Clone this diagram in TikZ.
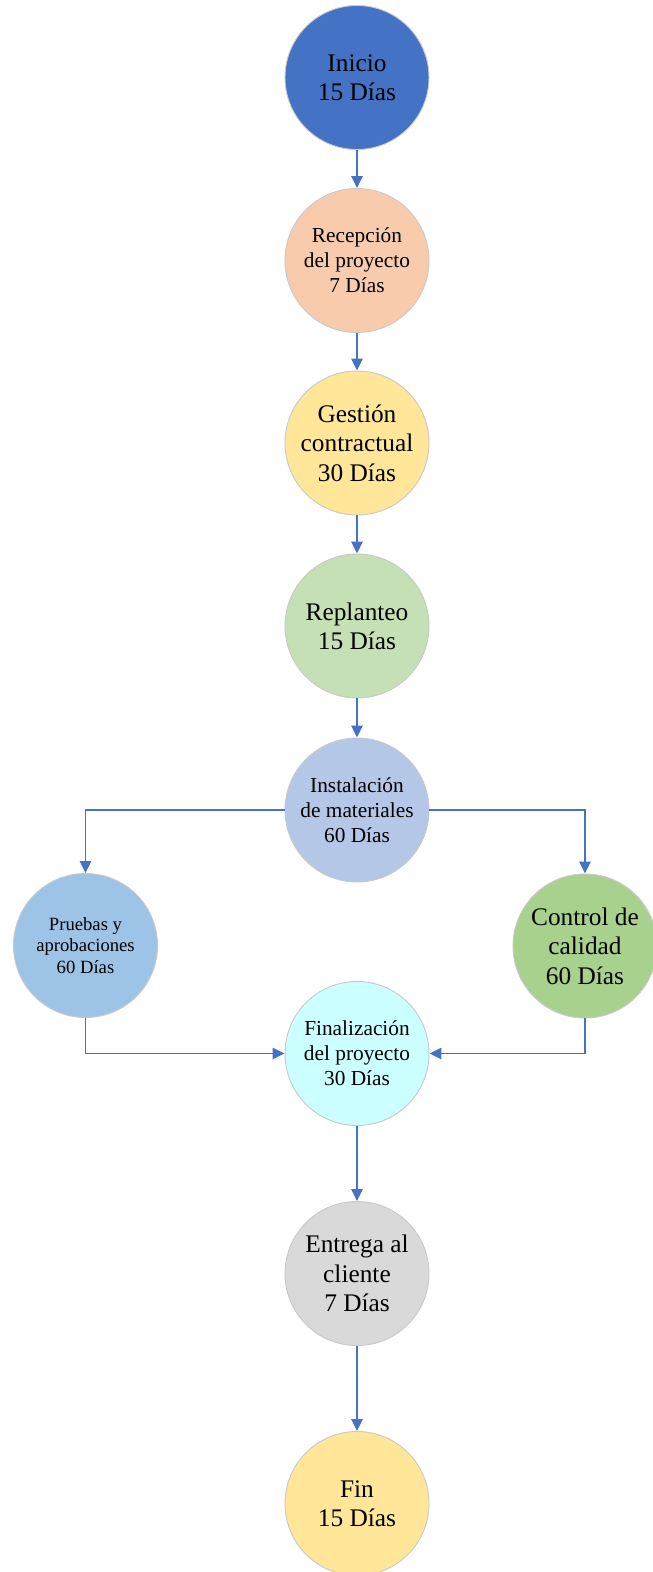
\documentclass[tikz,border=0pt]{standalone}
\usepackage{fontspec}
\setmainfont{Liberation Serif}
\usetikzlibrary{arrows.meta}
\definecolor{cInicio}{HTML}{4472C4}
\definecolor{cRecep}{HTML}{F8CBAD}
\definecolor{cGest}{HTML}{FFE699}
\definecolor{cRepl}{HTML}{C5E0B4}
\definecolor{cInst}{HTML}{B4C7E7}
\definecolor{cPrue}{HTML}{9DC3E6}
\definecolor{cCtrl}{HTML}{A9D18E}
\definecolor{cFinal}{HTML}{CCFFFF}
\definecolor{cEntr}{HTML}{D9D9D9}
\definecolor{cFin}{HTML}{FFE699}
\definecolor{rim}{HTML}{C9C9C9}
\definecolor{link}{HTML}{4472C4}
\tikzset{
  stage/.style={circle, draw=rim, line width=0.7pt, minimum size=108pt,
    inner sep=0pt, align=center, text=black},
  big/.style={font=\fontsize{19}{22}\selectfont},
  mid/.style={font=\fontsize{16}{18.8}\selectfont},
  small/.style={font=\fontsize{14}{16.2}\selectfont},
  flow/.style={draw=link, line width=1.1pt,
    -{Triangle[length=9pt,width=8.5pt]}}
}
\begin{document}
\begin{tikzpicture}[x=0.75pt,y=-0.75pt]
\useasboundingbox (0,0) rectangle (653,1572);
\fill[white] (0,0) rectangle (653,1572);
\node[stage,big,fill=cInicio] (inicio) at (357,77.5) {Inicio\\15 Días};
\node[stage,mid,fill=cRecep] (recep) at (357,260.5) {Recepción\\del proyecto\\7 Días};
\node[stage,big,fill=cGest] (gest) at (357,443) {Gestión\\contractual\\30 Días};
\node[stage,big,fill=cRepl] (repl) at (357,626) {Replanteo\\15 Días};
\node[stage,mid,fill=cInst] (inst) at (357,810) {Instalación\\de materiales\\60 Días};
\node[stage,small,fill=cPrue] (prue) at (85.5,945.5) {Pruebas y\\aprobaciones\\60 Días};
\node[stage,big,fill=cCtrl] (ctrl) at (585,946) {Control de\\calidad\\60 Días};
\node[stage,mid,fill=cFinal] (final) at (357,1053.5) {Finalización\\del proyecto\\30 Días};
\node[stage,big,fill=cEntr] (entr) at (357,1273.5) {Entrega al\\cliente\\7 Días};
\node[stage,big,fill=cFin] (fin) at (357,1503.5) {Fin\\15 Días};

\draw[flow] (inicio) -- (recep);
\draw[flow] (recep) -- (gest);
\draw[flow] (gest) -- (repl);
\draw[flow] (repl) -- (inst);
\draw[flow] (inst.west) -| (prue.north);
\draw[flow] (inst.east) -| (ctrl.north);
\draw[flow] (prue.south) |- (final.west);
\draw[flow] (ctrl.south) |- (final.east);
\draw[flow] (final) -- (entr);
\draw[flow] (entr) -- (fin);
\end{tikzpicture}
\end{document}
